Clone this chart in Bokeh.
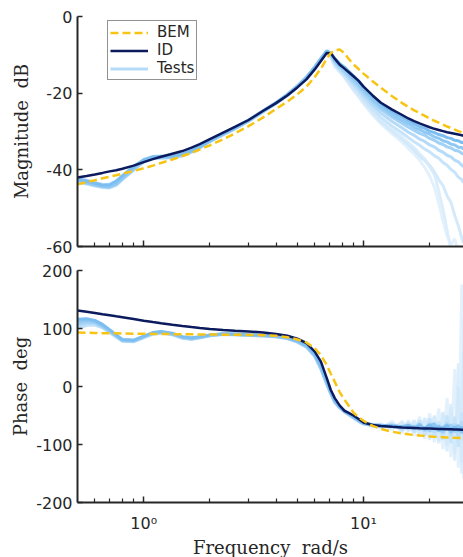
from bokeh.plotting import figure
from bokeh.layouts import column
from bokeh.models import Range1d, FixedTicker, Legend, LegendItem, BasicTickFormatter, PrintfTickFormatter
from bokeh.embed import file_html
from bokeh.resources import INLINE

# ---------------- data ----------------
freq = [0.5, 0.55, 0.6, 0.65, 0.7, 0.75, 0.8, 0.9,
        1.0, 1.1, 1.2, 1.35, 1.5, 1.65, 1.8,
        2.0, 2.3, 2.6, 3.0, 3.5, 4.0, 4.5, 5.0, 5.5, 6.0, 6.4, 6.8,
        7.1, 7.4, 7.8, 8.2, 8.6, 9.0, 9.5, 10.0, 11.0, 12.0, 13.5, 15.0,
        16.0, 17.0, 18.0, 19.0, 20.0, 21.0, 22.0, 23.0, 24.0, 25.0, 26.0, 27.0, 28.0, 28.5]

mag_bem = [-43.8, -43.2, -42.7, -42.2, -41.8, -41.4, -41.0, -40.3,
           -39.6, -38.9, -38.2, -37.3, -36.4, -35.6, -34.7,
           -33.6, -32.0, -30.5, -28.6, -26.3, -24.1, -22.2, -20.3, -18.3, -15.8, -13.6, -11.0,
           -9.5, -8.8, -8.6, -9.6, -11.2, -12.5, -13.7, -14.9, -16.9, -18.6, -20.8, -22.6,
           -23.6, -24.5, -25.2, -25.9, -26.6, -27.2, -27.7, -28.2, -28.7, -29.1, -29.5, -29.9, -30.2, -30.4]

mag_id = [-42.0, -41.6, -41.2, -40.8, -40.4, -40.1, -39.7, -38.9,
          -38.0, -37.2, -36.6, -35.8, -35.1, -34.2, -33.3,
          -32.0, -30.3, -28.8, -27.0, -24.6, -22.6, -20.6, -18.5, -16.4, -13.8, -11.6, -9.5,
          -9.6, -11.0, -12.6, -13.6, -14.6, -15.6, -16.8, -18.3, -20.6, -22.5, -24.3, -25.7,
          -26.6, -27.3, -27.9, -28.4, -28.9, -29.3, -29.6, -29.9, -30.2, -30.4, -30.6, -30.8, -31.0, -31.1]

mag_test1 = [-42.4, -42.9, -43.5, -44.0, -43.9, -43.0, -41.6, -39.2,
             -37.4, -36.6, -36.5, -36.4, -35.9, -35.0, -33.9,
             -32.4, -30.5, -29.0, -27.1, -24.6, -22.5, -20.4, -18.2, -15.9, -13.2, -11.0, -9.0,
             -9.5, -11.0, -12.3, -13.2, -14.4, -15.5, -16.8, -18.4, -20.8, -22.8, -24.8, -26.3,
             -27.2, -28.0, -28.7, -29.2, -29.9, -30.3, -30.8, -31.1, -31.6, -31.8, -32.3, -32.4, -32.9, -32.8]
mag_test2 = [-42.8, -43.3, -43.9, -44.3, -44.4, -43.6, -42.1, -39.6,
             -37.6, -36.8, -36.7, -36.6, -36.1, -35.2, -34.1,
             -32.5, -30.7, -29.2, -27.2, -24.7, -22.6, -20.5, -18.3, -16.0, -13.3, -11.1, -9.1,
             -9.7, -11.4, -12.8, -13.7, -15.0, -16.2, -17.5, -19.1, -21.6, -23.5, -25.6, -27.2,
             -28.0, -28.9, -29.5, -30.2, -30.7, -31.4, -31.8, -32.4, -32.7, -33.3, -33.5, -34.1, -34.2, -34.6]
mag_test3 = [-43.2, -43.6, -44.1, -44.5, -44.6, -43.9, -42.5, -40.0,
             -37.9, -37.0, -36.9, -36.8, -36.3, -35.3, -34.2,
             -32.6, -30.8, -29.3, -27.3, -24.8, -22.7, -20.6, -18.4, -16.1, -13.5, -11.3, -9.3,
             -10.0, -11.8, -13.2, -14.3, -15.6, -16.8, -18.2, -19.8, -22.3, -24.2, -26.3, -27.9,
             -28.9, -29.7, -30.5, -31.0, -31.8, -32.3, -33.0, -33.4, -34.0, -34.3, -34.9, -35.1, -35.7, -35.9]
mag_test4 = [-42.2, -42.7, -43.3, -43.8, -43.8, -42.9, -41.5, -39.1,
             -37.3, -36.5, -36.4, -36.3, -35.8, -34.9, -33.8,
             -32.2, -30.4, -28.9, -27.0, -24.5, -22.4, -20.3, -18.1, -15.8, -13.1, -10.9, -8.9,
             -9.8, -11.9, -13.6, -14.8, -16.2, -17.5, -19.0, -20.6, -23.2, -25.2, -27.4, -29.1,
             -30.2, -31.0, -32.0, -32.6, -33.5, -34.0, -34.9, -35.4, -36.2, -36.6, -37.5, -37.9, -38.8, -39.2]
mag_test5 = [-42.6, -43.1, -43.7, -44.1, -44.2, -43.4, -41.9, -39.5,
             -37.6, -36.7, -36.6, -36.5, -36.0, -35.1, -34.0,
             -32.4, -30.6, -29.1, -27.1, -24.6, -22.5, -20.4, -18.2, -15.9, -13.2, -11.0, -9.1,
             -10.2, -12.4, -14.0, -15.3, -16.8, -18.2, -19.8, -21.5, -24.2, -26.3, -28.6, -30.4,
             -31.6, -32.7, -33.6, -34.6, -35.3, -36.3, -37.0, -38.1, -38.8, -39.9, -40.6, -41.9, -42.6, -43.4]
mag_test6 = [-42.9, -43.4, -44.0, -44.4, -44.5, -43.8, -42.3, -39.9,
             -37.8, -36.9, -36.8, -36.7, -36.2, -35.2, -34.1,
             -32.5, -30.7, -29.2, -27.2, -24.7, -22.6, -20.5, -18.3, -16.0, -13.4, -11.2, -9.3,
             -10.5, -12.8, -14.3, -15.6, -17.2, -18.7, -20.3, -22.0, -24.8, -27.0, -29.4, -31.5,
             -32.9, -34.2, -35.8, -37.1, -39.3, -41.2, -45.6, -50.3, -55.8, -61.0, -63.5, -62.0, -64.5, -63.0]
mag_test7 = [-43.3, -43.8, -44.3, -44.7, -44.8, -44.1, -42.6, -40.2,
             -38.0, -37.1, -37.0, -36.9, -36.4, -35.4, -34.3,
             -32.7, -30.9, -29.4, -27.4, -24.9, -22.8, -20.7, -18.5, -16.2, -13.6, -11.4, -9.5,
             -10.8, -13.2, -13.9, -16.0, -17.7, -19.3, -21.0, -22.8, -25.7, -28.0, -30.6, -32.8,
             -34.4, -35.9, -37.5, -39.4, -41.6, -44.5, -48.7, -53.4, -57.2, -59.5, -58.0, -61.5, -60.5, -63.0]
mag_test8 = [-42.5, -43.0, -43.6, -44.1, -44.0, -43.2, -41.8, -39.4,
             -37.5, -36.7, -36.6, -36.5, -36.0, -35.0, -33.9,
             -32.3, -30.5, -29.0, -27.1, -24.6, -22.5, -20.4, -18.2, -15.9, -13.3, -11.1, -9.2,
             -10.4, -12.6, -14.5, -15.8, -17.4, -19.0, -20.6, -22.4, -25.2, -27.5, -30.0, -32.1,
             -33.5, -34.9, -36.5, -37.6, -38.8, -40.5, -42.6, -44.1, -46.8, -48.5, -51.9, -54.6, -57.8, -59.0]

ph_bem = [93.0, 92.6, 92.3, 92.0, 91.8, 91.6, 91.4, 91.1,
          90.9, 90.7, 90.5, 90.3, 90.1, 89.9, 89.8,
          89.6, 89.4, 89.2, 89.0, 88.5, 87.5, 85.0, 81.0, 76.0, 66.0, 54.0, 37.0,
          22.0, 8.0, -10.0, -23.0, -34.0, -45.0, -53.0, -59.0, -68.0, -73.0, -78.0, -81.0,
          -82.5, -83.7, -84.6, -85.4, -86.0, -86.6, -87.1, -87.5, -87.9, -88.2, -88.5, -88.8, -89.0, -89.1]

ph_id = [131.0, 128.8, 126.6, 124.6, 122.8, 121.0, 119.4, 116.4,
         113.5, 111.2, 109.2, 106.6, 104.4, 102.5, 100.8,
         99.0, 97.5, 96.2, 95.0, 93.0, 90.5, 87.5, 82.5, 75.0, 60.0, 43.0, 15.0,
         -6.0, -20.0, -33.0, -42.0, -46.0, -50.0, -56.0, -62.0, -66.5, -68.0, -69.5, -70.5,
         -71.0, -71.5, -72.0, -72.3, -72.6, -72.9, -73.2, -73.4, -73.6, -73.8, -74.0, -74.2, -74.4, -74.5]

ph_test1 = [116, 117, 114, 107, 98, 89, 81, 80,
            87, 93, 95, 92, 86, 84, 86,
            89, 91, 90.5, 89.5, 88.5, 87, 84, 79, 71, 56, 36, 10,
            -9, -24, -35, -42, -47, -52, -58, -63, -66, -67, -68, -69,
            -67, -71, -68, -72, -66, -73, -69, -75, -68, -74, -70, -76, -71, -73]
ph_test2 = [112, 114, 112, 105, 96, 88, 80, 79,
            86, 92, 94, 91, 85, 83, 85,
            88.5, 90.5, 90, 89, 88, 86.5, 83.5, 78, 70, 54, 33, 7,
            -11, -26, -36, -43, -48, -53, -59, -64, -67, -68, -69, -71,
            -68, -73, -65, -75, -68, -64, -77, -70, -66, -79, -72, -67, -80, -72]
ph_test3 = [108, 111, 110, 103, 95, 87, 79, 78,
            85, 91, 93, 90, 84, 82, 84,
            88, 90, 89.5, 88.5, 87.5, 86, 83, 77, 68, 52, 30, 4,
            -13, -27, -37, -44, -49, -54, -60, -64, -66, -68, -67, -70,
            -72, -68, -74, -70, -77, -68, -73, -79, -70, -66, -78, -74, -69, -77]
ph_test4 = [104, 108, 108, 102, 94, 86, 79, 78,
            85, 91, 93, 90, 84, 82, 85,
            88, 90, 89.5, 88.5, 87.5, 86, 83, 77, 69, 53, 32, 6,
            -12, -26, -36, -43, -48, -53, -59, -64, -67, -69, -66, -73,
            -66, -74, -64, -77, -63, -79, -66, -81, -62, -84, -64, -86, -60, -80]
ph_test5 = [100, 105, 106, 101, 93, 85, 78, 77,
            84, 90, 92, 89, 83, 81, 84,
            87.5, 89.5, 89, 88, 87, 85.5, 82.5, 76.5, 68, 52, 31, 5,
            -12, -27, -37, -44, -49, -54, -60, -65, -66, -70, -64, -76,
            -62, -79, -58, -84, -55, -88, -60, -92, -50, -98, -52, -104, -45, -95]
ph_test6 = [110, 113, 111, 104, 95, 87, 80, 79,
            86, 92, 94, 91, 85, 83, 85,
            88.5, 90.5, 90, 89, 88, 86.5, 83.5, 78, 70, 54, 34, 8,
            -10, -25, -36, -43, -48, -53, -59, -64, -68, -64, -74, -60,
            -78, -58, -86, -54, -92, -50, -98, -44, -112, -30, -128, 40, -150, 120]
ph_test7 = [114, 116, 113, 106, 97, 88, 80, 79,
            86, 92, 94, 91, 85, 83, 85,
            88.5, 90.5, 90, 89, 88, 86.5, 83.5, 78, 70, 55, 35, 9,
            -10, -25, -35, -42, -47, -52, -58, -63, -65, -72, -60, -80,
            -58, -84, -52, -90, -46, -96, -38, -108, -20, -122, 30, -140, 176, -159]
ph_test8 = [106, 109, 109, 103, 94, 86, 79, 78,
            85, 91, 93, 90, 84, 82, 84,
            88, 90, 89.5, 88.5, 87.5, 86, 83, 77, 69, 53, 32, 6,
            -12, -26, -36, -43, -48, -53, -59, -64, -69, -66, -72, -63,
            -76, -60, -82, -56, -88, -52, -94, -46, -102, -36, -116, 0, -132, 60]

mag_ticks = [-60, -40, -20, 0]
phase_ticks = [-200, -100, 0, 100, 200]
freq_major_ticks = [1, 10]
freq_major_labels = {1: "10\u2070", 10: "10\u00b9"}
freq_minor_ticks = [0.6, 0.7, 0.8, 0.9, 2, 3, 4, 5, 6, 7, 8, 9, 20]

legend_labels = ["BEM", "ID", "Tests"]

# --------------- styles ---------------
C_BEM = "#F8C414"
C_ID = "#0C1A5E"
AX = "#262626"
test_colors = ["#7DBEF0", "#8FC8F3", "#A2D1F6", "#B5DBF8", "#C8E4FA", "#DCEEFC", "#E3F1FD", "#D4EAFB"]
mag_tests = [mag_test1, mag_test2, mag_test3, mag_test4, mag_test5, mag_test6, mag_test7, mag_test8]
ph_tests = [ph_test1, ph_test2, ph_test3, ph_test4, ph_test5, ph_test6, ph_test7, ph_test8]
draw_order = [6, 5, 7, 4, 3, 2, 1, 0]

x_range = Range1d(0.5, 28.5)


def style(p, yticks, show_xlabels):
    p.outline_line_color = None
    p.grid.visible = False
    p.background_fill_color = "white"
    p.border_fill_color = "white"
    xa = p.xaxis[0]
    ya = p.yaxis[0]
    xa.ticker = FixedTicker(ticks=freq_major_ticks, minor_ticks=freq_minor_ticks)
    xa.formatter = BasicTickFormatter()
    ya.ticker = FixedTicker(ticks=yticks)
    ya.formatter = PrintfTickFormatter(format="%d")
    for ax in (xa, ya):
        ax.axis_line_color = AX
        ax.axis_line_width = 2
        ax.major_tick_line_color = AX
        ax.major_tick_line_width = 1.5
        ax.major_tick_out = 0
        ax.major_label_text_font = "DejaVu Sans"
        ax.major_label_text_font_size = "16px"
        ax.major_label_text_color = AX
        ax.axis_label_text_font = "DejaVu Serif"
        ax.axis_label_text_font_size = "18px"
        ax.axis_label_text_font_style = "normal"
        ax.axis_label_text_color = AX
    xa.major_tick_in = 6
    xa.minor_tick_in = 4
    xa.minor_tick_out = 0
    xa.minor_tick_line_color = AX
    xa.minor_tick_line_width = 1.2
    ya.major_tick_in = 5
    ya.minor_tick_line_color = None
    ya.major_label_standoff = 5
    if show_xlabels:
        xa.major_label_overrides = freq_major_labels
    else:
        xa.major_label_text_font_size = "1px"
        xa.major_label_text_alpha = 0
        xa.major_label_standoff = 0


# --------------- magnitude ---------------
p1 = figure(frame_width=386, frame_height=230, x_axis_type="log",
            x_range=x_range, y_range=Range1d(-60, 0),
            output_backend="svg", toolbar_location=None,
            min_border_left=77, min_border_right=0, min_border_top=16, min_border_bottom=11)
style(p1, mag_ticks, False)
p1.yaxis[0].axis_label = "Magnitude\u00a0\u00a0dB"
p1.yaxis[0].axis_label_standoff = 11

t_rend = {}
for i in draw_order:
    t_rend[i] = p1.line(freq, mag_tests[i], line_color=test_colors[i], line_width=3)
r_id = p1.line(freq, mag_id, line_color=C_ID, line_width=2.5)
r_bem = p1.line(freq, mag_bem, line_color=C_BEM, line_width=2.5, line_dash="8 4")

legend = Legend(items=[LegendItem(label=legend_labels[0], renderers=[r_bem]),
                       LegendItem(label=legend_labels[1], renderers=[r_id]),
                       LegendItem(label=legend_labels[2], renderers=[t_rend[3]])],
                location=(30, 166))
legend.border_line_color = AX
legend.border_line_width = 1
legend.background_fill_color = "white"
legend.background_fill_alpha = 1
legend.label_text_font = "DejaVu Sans"
legend.label_text_font_size = "15px"
legend.label_text_color = AX
legend.glyph_width = 38
legend.glyph_height = 17
legend.label_height = 17
legend.label_standoff = 9
legend.padding = 2
legend.spacing = 0
legend.margin = 0
p1.add_layout(legend)

# --------------- phase ---------------
p2 = figure(frame_width=386, frame_height=232, x_axis_type="log",
            x_range=x_range, y_range=Range1d(-200, 200),
            output_backend="svg", toolbar_location=None,
            min_border_left=77, min_border_right=0, min_border_top=13, min_border_bottom=54)
style(p2, phase_ticks, True)
p2.yaxis[0].axis_label = "Phase\u00a0\u00a0deg"
p2.yaxis[0].axis_label_standoff = 2
p2.xaxis[0].axis_label = "Frequency\u00a0\u00a0rad/s"
p2.xaxis[0].major_label_standoff = 11
p2.xaxis[0].axis_label_standoff = 1

for i in draw_order:
    p2.line(freq, ph_tests[i], line_color=test_colors[i], line_width=3)
p2.line(freq, ph_id, line_color=C_ID, line_width=2.5)
p2.line(freq, ph_bem, line_color=C_BEM, line_width=2.5, line_dash="8 4")

layout = column(p1, p2, spacing=0)
open("out.html", "w").write(file_html(layout, INLINE))
